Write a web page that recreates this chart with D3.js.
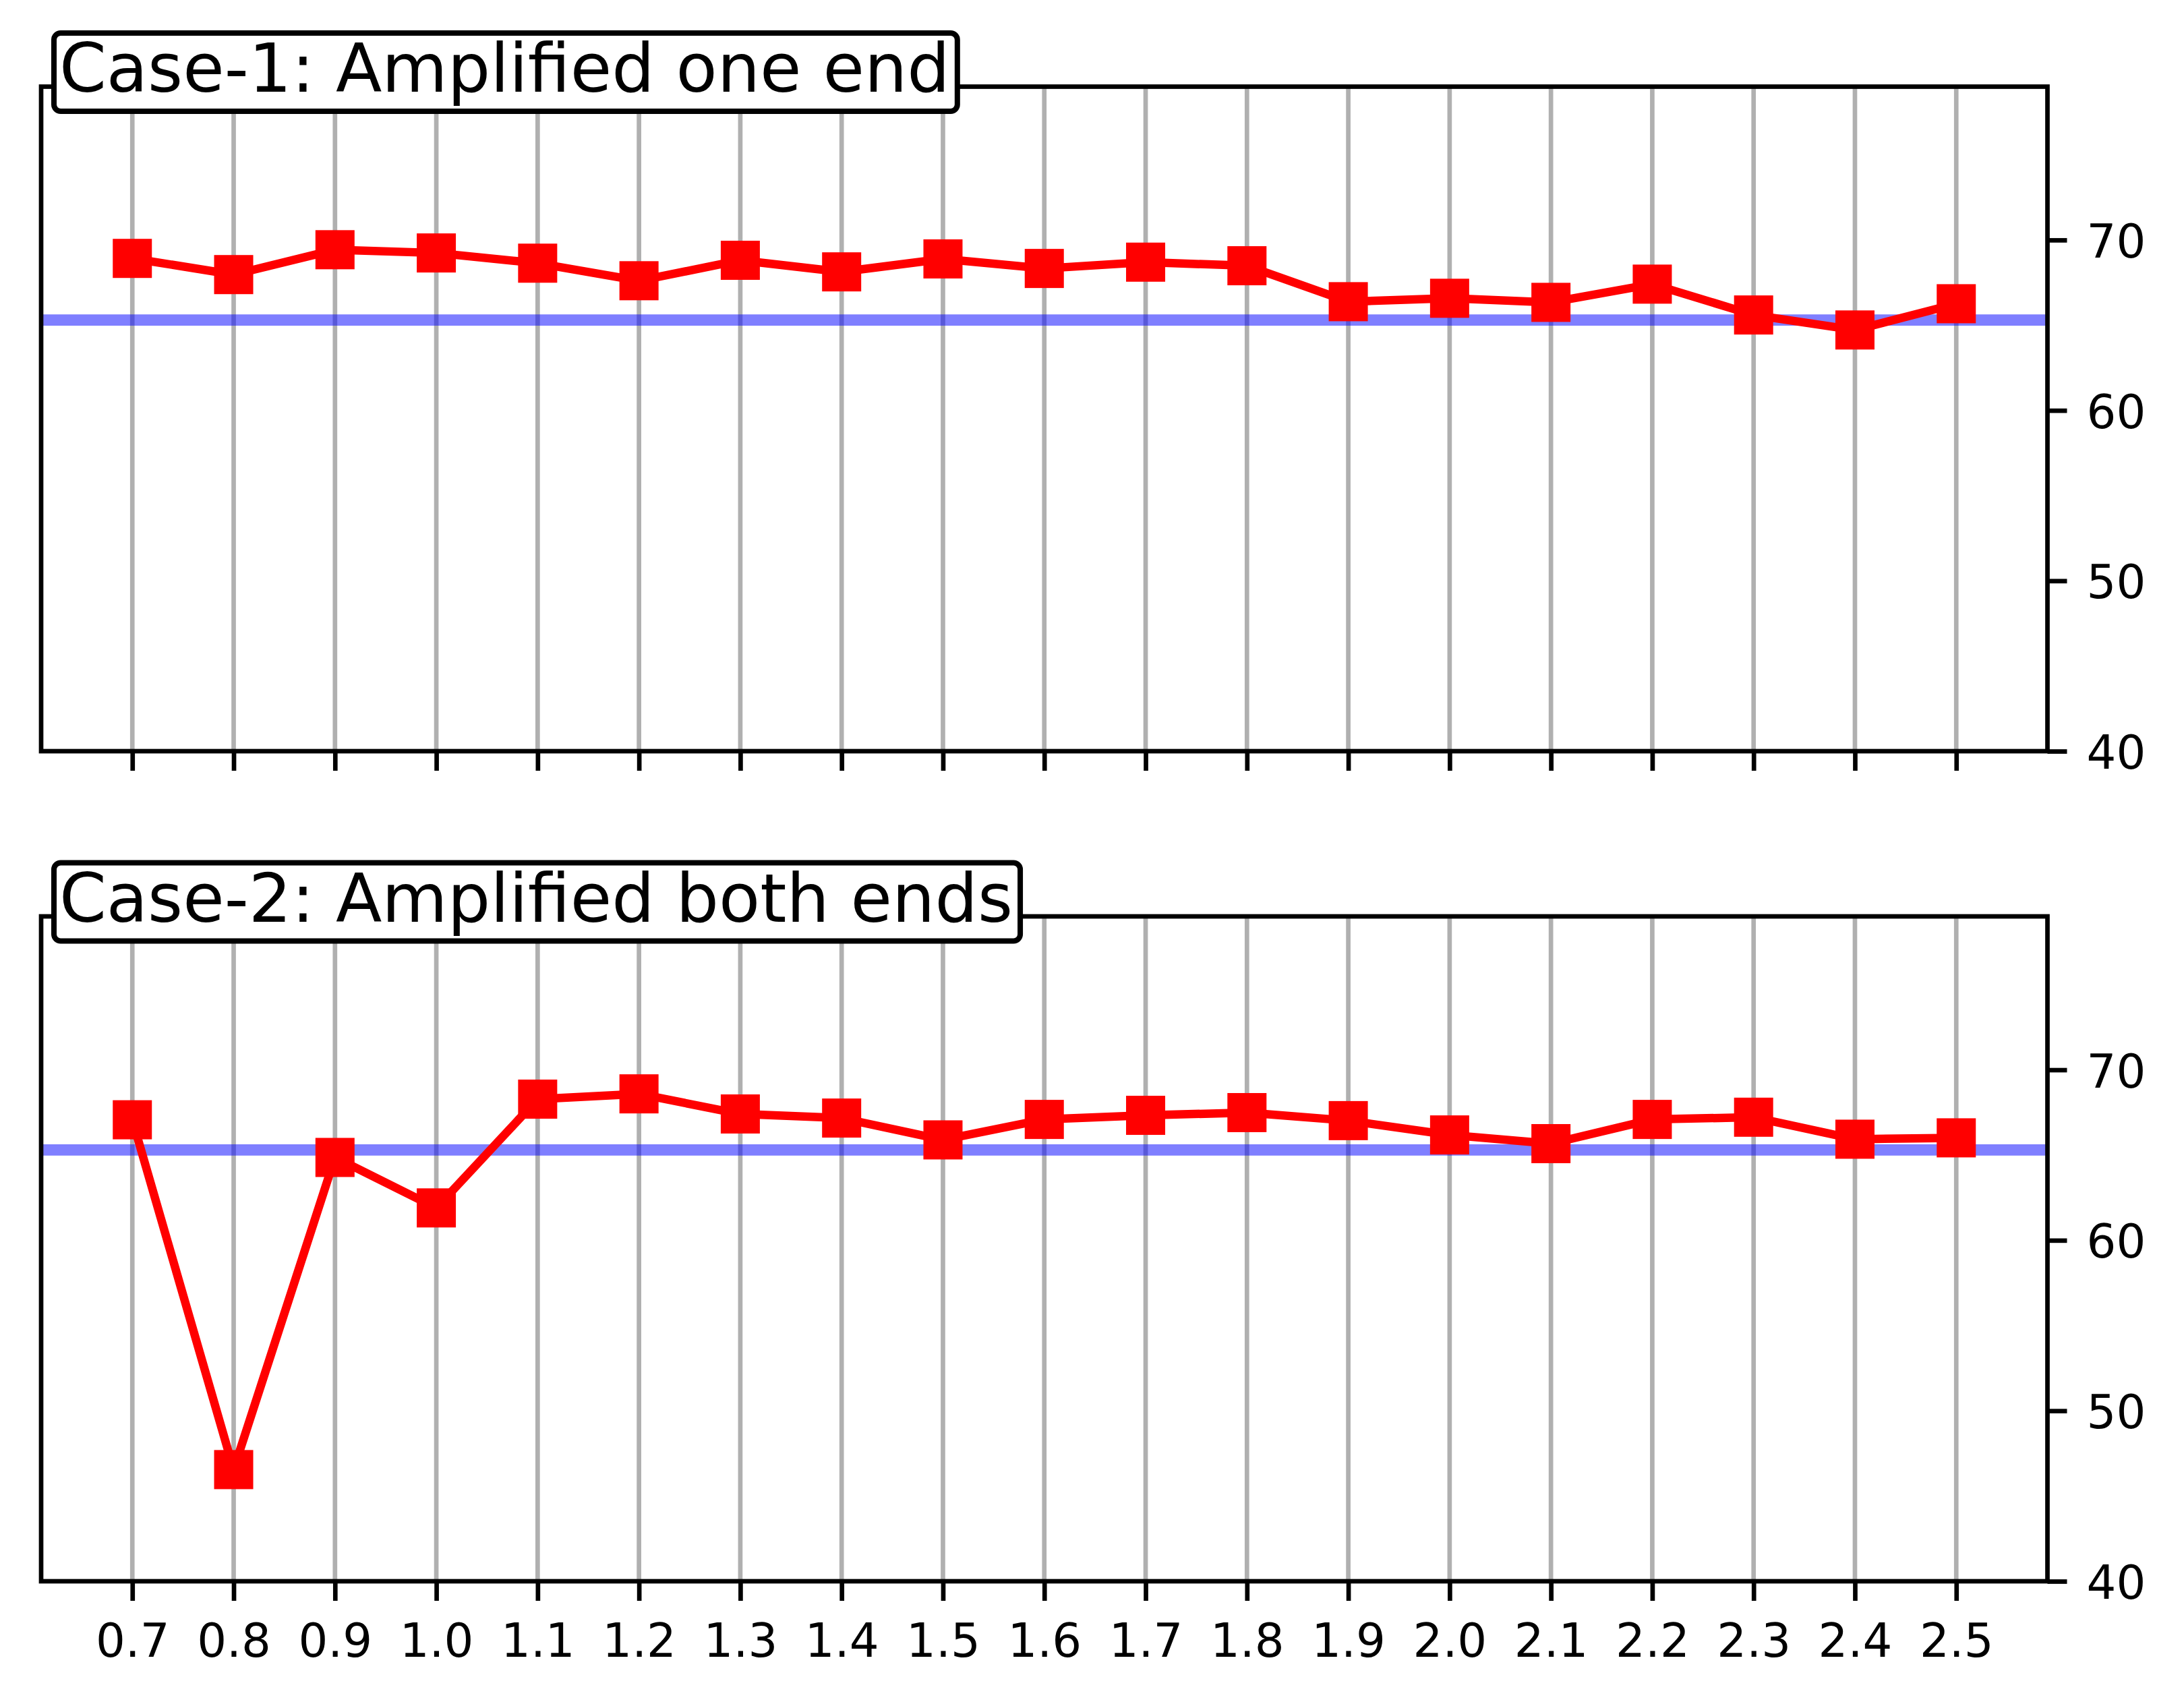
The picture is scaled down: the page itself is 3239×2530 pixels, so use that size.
<!DOCTYPE html>
<html>
<head>
<meta charset="utf-8">
<script src="https://cdn.jsdelivr.net/npm/d3@7"></script>
<style>
  html, body { margin: 0; padding: 0; background: #ffffff; }
  svg { display: block; }
  text { font-family: "DejaVu Sans", sans-serif; }
</style>
</head>
<body>
<svg id="chart" width="3239" height="2530"></svg>
<script>
// ---- Data ----
const xValues = [0.7, 0.8, 0.9, 1.0, 1.1, 1.2, 1.3, 1.4, 1.5, 1.6, 1.7, 1.8, 1.9, 2.0, 2.1, 2.2, 2.3, 2.4, 2.5];
const case1Values = [68.92, 67.97, 69.43, 69.24, 68.64, 67.61, 68.81, 68.13, 68.89, 68.33, 68.70, 68.49, 66.38, 66.58, 66.34, 67.41, 65.60, 64.72, 66.26];
const case2Values = [67.07, 46.55, 64.86, 61.90, 68.28, 68.59, 67.41, 67.17, 65.89, 67.09, 67.33, 67.49, 67.02, 66.18, 65.67, 67.09, 67.22, 65.93, 66.01];
const baselineValue = 65.3;
const yTickValues = [40, 50, 60, 70];
const xDomain = [0.61, 2.59];
const yDomain = [40, 79];
const panelTitles = ["Case-1: Amplified one end", "Case-2: Amplified both ends"];
const panelSeries = [case1Values, case2Values];

// ---- Layout ----
const svg = d3.select("#chart");
svg.append("rect").attr("width", 3239).attr("height", 2530).attr("fill", "#ffffff");

const left = 61, right = 3036.5;
const panels = [
  { top: 128.5, bottom: 1114, showXLabels: false },
  { top: 1359, bottom: 2345, showXLabels: true }
];
const lw = 6.7;       // 0.8pt at 600 dpi
const tickLen = 29;
const tickPad = 29;
const tickFont = 69;
const titleFont = 100;

const x = d3.scaleLinear().domain(xDomain).range([left, right]);

panels.forEach((p, i) => {
  const y = d3.scaleLinear().domain(yDomain).range([p.bottom, p.top]);
  const g = svg.append("g");

  // vertical grid lines
  g.append("g").selectAll("line").data(xValues).join("line")
    .attr("x1", d => x(d)).attr("x2", d => x(d))
    .attr("y1", p.top).attr("y2", p.bottom)
    .attr("stroke", "#b0b0b0").attr("stroke-width", lw);

  // baseline (axhline)
  g.append("line")
    .attr("x1", left).attr("x2", right)
    .attr("y1", y(baselineValue)).attr("y2", y(baselineValue))
    .attr("stroke", "#0000ff").attr("stroke-opacity", 0.5).attr("stroke-width", 16.7);

  // series line
  const data = xValues.map((xv, k) => ({ x: xv, y: panelSeries[i][k] }));
  g.append("path").datum(data)
    .attr("fill", "none").attr("stroke", "#ff0000").attr("stroke-width", 12.5)
    .attr("stroke-linejoin", "round")
    .attr("d", d3.line().x(d => x(d.x)).y(d => y(d.y)));

  // square markers
  const ms = 58;
  g.append("g").selectAll("rect").data(data).join("rect")
    .attr("x", d => x(d.x) - ms / 2).attr("y", d => y(d.y) - ms / 2)
    .attr("width", ms).attr("height", ms).attr("fill", "#ff0000");

  // spines
  g.append("rect")
    .attr("x", left).attr("y", p.top)
    .attr("width", right - left).attr("height", p.bottom - p.top)
    .attr("fill", "none").attr("stroke", "#000").attr("stroke-width", lw);

  // right y axis
  const yAxis = d3.axisRight(y).tickValues(yTickValues).tickSize(tickLen).tickSizeOuter(0).tickPadding(tickPad);
  const ya = g.append("g").attr("transform", `translate(${right},0)`).call(yAxis);
  ya.select(".domain").remove();
  ya.selectAll(".tick line").attr("stroke", "#000").attr("stroke-width", lw);
  ya.selectAll(".tick text").attr("font-size", tickFont).attr("fill", "#000")
    .attr("font-family", "DejaVu Sans").attr("dy", "0.37em");

  // bottom x axis
  const xAxis = d3.axisBottom(x).tickValues(xValues).tickSize(tickLen).tickSizeOuter(0).tickPadding(tickPad)
    .tickFormat(p.showXLabels ? d3.format(".1f") : () => "");
  const xa = g.append("g").attr("transform", `translate(0,${p.bottom})`).call(xAxis);
  xa.select(".domain").remove();
  xa.selectAll(".tick line").attr("stroke", "#000").attr("stroke-width", lw);
  xa.selectAll(".tick text").attr("font-size", tickFont).attr("fill", "#000")
    .attr("font-family", "DejaVu Sans").attr("dy", "0.78em");

  // title box
  const tg = g.append("g");
  const baseY = p.top + 7.5;
  const box = tg.append("rect");
  const t = tg.append("text")
    .attr("x", 88).attr("y", baseY)
    .attr("font-size", titleFont).attr("fill", "#000")
    .text(panelTitles[i]);
  const bb = t.node().getBBox();
  box.attr("x", bb.x - 8).attr("width", bb.width + 19)
    .attr("y", baseY - 87).attr("height", 116)
    .attr("rx", 10).attr("ry", 10)
    .attr("fill", "#ffffff").attr("stroke", "#000").attr("stroke-width", 8);
});
</script>
</body>
</html>
